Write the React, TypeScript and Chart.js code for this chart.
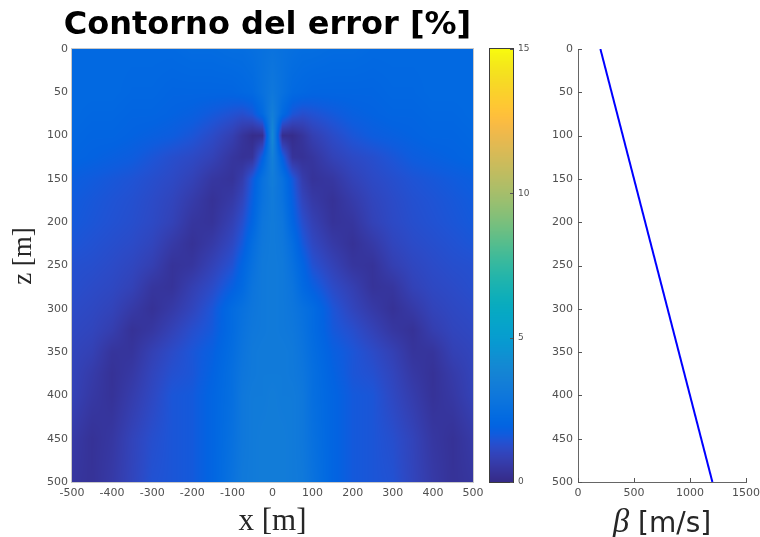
import React, { useEffect, useRef } from 'react';
import { Chart, registerables } from 'chart.js';

Chart.register(...registerables);

// ---- Error field sampled on a (x, z) grid, in percent ----
const X_NODES = [-500, -450, -400, -350, -300, -250, -200, -150, -100, -75, -50, -25, 0, 25, 50, 75, 100, 150, 200, 250, 300, 350, 400, 450, 500];
const Z_NODES = [0, 50, 75, 100, 125, 150, 175, 200, 225, 250, 275, 300, 325, 350, 375, 400, 450, 500];
const ERROR_GRID = [
  [2.2, 2.2, 2.2, 2.2, 2.2, 2.2, 2.3, 2.3, 2.4, 2.4, 2.5, 2.6, 2.7, 2.6, 2.5, 2.4, 2.4, 2.3, 2.3, 2.2, 2.2, 2.2, 2.2, 2.2, 2.2],
  [2.2, 2.2, 2.2, 2.1, 2.1, 2.0, 2.0, 2.0, 2.0, 2.1, 2.2, 2.6, 3.0, 2.6, 2.2, 2.1, 2.0, 2.0, 2.0, 2.0, 2.1, 2.1, 2.2, 2.2, 2.2],
  [2.2, 2.1, 2.1, 2.0, 2.0, 1.9, 1.8, 1.6, 1.4, 1.3, 1.5, 2.2, 3.4, 2.2, 1.5, 1.3, 1.4, 1.6, 1.8, 1.9, 2.0, 2.0, 2.1, 2.1, 2.2],
  [2.1, 2.0, 2.0, 1.9, 1.8, 1.7, 1.5, 1.2, 0.8, 0.4, 0.1, 0.15, 4.0, 0.15, 0.1, 0.4, 0.8, 1.2, 1.5, 1.7, 1.8, 1.9, 2.0, 2.0, 2.1],
  [2.0, 1.9, 1.8, 1.7, 1.5, 1.3, 1.15, 0.9, 0.45, 0.3, 0.35, 1.8, 3.5, 1.8, 0.35, 0.3, 0.45, 0.9, 1.15, 1.3, 1.5, 1.7, 1.8, 1.9, 2.0],
  [1.75, 1.65, 1.55, 1.45, 1.3, 1.15, 0.9, 0.5, 0.35, 0.7, 1.6, 2.6, 3.3, 2.6, 1.6, 0.7, 0.35, 0.5, 0.9, 1.15, 1.3, 1.45, 1.55, 1.65, 1.75],
  [1.65, 1.55, 1.45, 1.35, 1.2, 1.0, 0.65, 0.3, 0.6, 1.0, 1.8, 2.7, 3.2, 2.7, 1.8, 1.0, 0.6, 0.3, 0.65, 1.0, 1.2, 1.35, 1.45, 1.55, 1.65],
  [1.6, 1.5, 1.4, 1.3, 1.15, 0.9, 0.45, 0.35, 0.85, 1.3, 2.0, 2.9, 3.2, 2.9, 2.0, 1.3, 0.85, 0.35, 0.45, 0.9, 1.15, 1.3, 1.4, 1.5, 1.6],
  [1.5, 1.4, 1.3, 1.2, 1.0, 0.6, 0.3, 0.6, 1.1, 1.6, 2.4, 3.0, 3.2, 3.0, 2.4, 1.6, 1.1, 0.6, 0.3, 0.6, 1.0, 1.2, 1.3, 1.4, 1.5],
  [1.35, 1.3, 1.2, 1.05, 0.8, 0.35, 0.45, 0.9, 1.4, 2.0, 2.6, 3.1, 3.2, 3.1, 2.6, 2.0, 1.4, 0.9, 0.45, 0.35, 0.8, 1.05, 1.2, 1.3, 1.35],
  [1.3, 1.2, 1.1, 0.9, 0.45, 0.35, 0.8, 1.2, 1.8, 2.2, 2.8, 3.1, 3.2, 3.1, 2.8, 2.2, 1.8, 1.2, 0.8, 0.35, 0.45, 0.9, 1.1, 1.2, 1.3],
  [1.2, 1.1, 0.95, 0.6, 0.3, 0.6, 1.0, 1.5, 2.3, 2.6, 2.9, 3.1, 3.2, 3.1, 2.9, 2.6, 2.3, 1.5, 1.0, 0.6, 0.3, 0.6, 0.95, 1.1, 1.2],
  [1.1, 1.0, 0.75, 0.3, 0.5, 0.9, 1.3, 1.6, 2.3, 2.7, 3.0, 3.1, 3.2, 3.1, 3.0, 2.7, 2.3, 1.6, 1.3, 0.9, 0.5, 0.3, 0.75, 1.0, 1.1],
  [1.0, 0.85, 0.4, 0.4, 0.85, 1.2, 1.5, 1.8, 2.4, 2.8, 3.1, 3.2, 3.2, 3.2, 3.1, 2.8, 2.4, 1.8, 1.5, 1.2, 0.85, 0.4, 0.4, 0.85, 1.0],
  [0.95, 0.65, 0.3, 0.55, 1.0, 1.35, 1.5, 1.9, 2.5, 2.9, 3.1, 3.2, 3.2, 3.2, 3.1, 2.9, 2.5, 1.9, 1.5, 1.35, 1.0, 0.55, 0.3, 0.65, 0.95],
  [0.9, 0.55, 0.32, 0.7, 1.1, 1.5, 1.6, 2.0, 2.5, 3.0, 3.2, 3.2, 3.3, 3.2, 3.2, 3.0, 2.5, 2.0, 1.6, 1.5, 1.1, 0.7, 0.32, 0.55, 0.9],
  [0.6, 0.3, 0.5, 0.95, 1.3, 1.5, 1.6, 2.0, 2.6, 3.0, 3.2, 3.3, 3.3, 3.3, 3.2, 3.0, 2.6, 2.0, 1.6, 1.5, 1.3, 0.95, 0.5, 0.3, 0.6],
  [0.45, 0.32, 0.6, 1.0, 1.4, 1.5, 1.6, 2.0, 2.7, 3.1, 3.2, 3.3, 3.3, 3.3, 3.2, 3.1, 2.7, 2.0, 1.6, 1.5, 1.4, 1.0, 0.6, 0.32, 0.45],
];

const X_TICKS = [-500, -400, -300, -200, -100, 0, 100, 200, 300, 400, 500];
const Z_TICKS = [0, 50, 100, 150, 200, 250, 300, 350, 400, 450, 500];
const CBAR_TICKS = [0, 5, 10, 15];
const CBAR_MIN = 0;
const CBAR_MAX = 15;

// ---- Shear-wave velocity profile ----
const BETA_DEPTH = [0, 500];
const BETA_SPEED = [200, 1200];
const BETA_TICKS = [0, 500, 1000, 1500];

// Parula colour map (64 entries, RGB in 0..1)
const PARULA = [
  [0.2081, 0.1663, 0.5292], [0.2116, 0.1898, 0.5777], [0.2123, 0.2138, 0.627], [0.2081, 0.2386, 0.6771],
  [0.1959, 0.2645, 0.7279], [0.1707, 0.2919, 0.7792], [0.1253, 0.3242, 0.8303], [0.0591, 0.3598, 0.8683],
  [0.0117, 0.3875, 0.882], [0.006, 0.4086, 0.8828], [0.0165, 0.4266, 0.8786], [0.0329, 0.443, 0.872],
  [0.0498, 0.4586, 0.8641], [0.0629, 0.4737, 0.8554], [0.0723, 0.4887, 0.8467], [0.0779, 0.504, 0.8384],
  [0.0793, 0.52, 0.8312], [0.0749, 0.5375, 0.8263], [0.0641, 0.557, 0.824], [0.0488, 0.5772, 0.8228],
  [0.0343, 0.5966, 0.8199], [0.0265, 0.6137, 0.8135], [0.0239, 0.6287, 0.8038], [0.0231, 0.6418, 0.7913],
  [0.0228, 0.6535, 0.7768], [0.0267, 0.6642, 0.7607], [0.0384, 0.6743, 0.7436], [0.059, 0.6838, 0.7254],
  [0.0843, 0.6928, 0.7062], [0.1133, 0.7015, 0.6859], [0.1453, 0.7098, 0.6646], [0.1801, 0.7177, 0.6424],
  [0.2178, 0.725, 0.6193], [0.2586, 0.7317, 0.5954], [0.3022, 0.7376, 0.5712], [0.3482, 0.7424, 0.5473],
  [0.3953, 0.7459, 0.5244], [0.442, 0.7481, 0.5033], [0.4871, 0.7491, 0.484], [0.53, 0.7491, 0.4661],
  [0.5709, 0.7485, 0.4494], [0.6099, 0.7473, 0.4337], [0.6473, 0.7456, 0.4188], [0.6834, 0.7435, 0.4044],
  [0.7184, 0.7411, 0.3905], [0.7525, 0.7384, 0.3768], [0.7858, 0.7356, 0.3633], [0.8185, 0.7327, 0.3498],
  [0.8507, 0.7299, 0.336], [0.8824, 0.7274, 0.3217], [0.9139, 0.7258, 0.3063], [0.945, 0.7261, 0.2886],
  [0.9739, 0.7314, 0.2666], [0.9938, 0.7455, 0.2403], [0.999, 0.7653, 0.2164], [0.9955, 0.7861, 0.1967],
  [0.988, 0.8066, 0.1794], [0.9789, 0.8271, 0.1633], [0.9697, 0.8481, 0.1475], [0.9626, 0.8705, 0.1309],
  [0.9589, 0.8949, 0.1132], [0.9598, 0.9218, 0.0948], [0.9661, 0.9514, 0.0755], [0.9763, 0.9831, 0.0538],
];

const TICK_FONT = { family: '"DejaVu Sans", sans-serif', size: 11 };
const TICK_COLOR = '#505050';

function parula(v: number): [number, number, number] {
  const t = Math.min(1, Math.max(0, (v - CBAR_MIN) / (CBAR_MAX - CBAR_MIN))) * (PARULA.length - 1);
  const i = Math.min(PARULA.length - 2, Math.floor(t));
  const f = t - i;
  const a = PARULA[i];
  const b = PARULA[i + 1];
  return [
    Math.round((a[0] + (b[0] - a[0]) * f) * 255),
    Math.round((a[1] + (b[1] - a[1]) * f) * 255),
    Math.round((a[2] + (b[2] - a[2]) * f) * 255),
  ];
}

function locate(nodes: number[], v: number): [number, number] {
  let i = 0;
  while (i < nodes.length - 2 && v > nodes[i + 1]) i++;
  const t = (v - nodes[i]) / (nodes[i + 1] - nodes[i]);
  return [i, Math.min(1, Math.max(0, t))];
}

function sampleError(x: number, z: number): number {
  const [i, tx] = locate(X_NODES, x);
  const [j, tz] = locate(Z_NODES, z);
  const v00 = ERROR_GRID[j][i];
  const v10 = ERROR_GRID[j][i + 1];
  const v01 = ERROR_GRID[j + 1][i];
  const v11 = ERROR_GRID[j + 1][i + 1];
  const top = v00 + (v10 - v00) * tx;
  const bot = v01 + (v11 - v01) * tx;
  return top + (bot - top) * tz;
}

const fixedTicks = (values: number[]) => (scale: any) => {
  scale.ticks = values.map((v) => ({ value: v }));
};
const plainLabel = (v: any) => String(v);
const noSidePadding = (height: number) => (s: any) => {
  s.height = height;
  s.paddingLeft = 0;
  s.paddingRight = 0;
};
const noEndPadding = (width: number) => (s: any) => {
  s.width = width;
  s.paddingTop = 0;
  s.paddingBottom = 0;
};

// Paints the interpolated error field inside the plot area
const fieldPlugin = {
  id: 'errorField',
  beforeDatasetsDraw(chart: any) {
    const { ctx, chartArea: a, scales } = chart;
    const w = Math.round(a.right - a.left);
    const h = Math.round(a.bottom - a.top);
    const off = document.createElement('canvas');
    off.width = w;
    off.height = h;
    const octx = off.getContext('2d')!;
    const img = octx.createImageData(w, h);
    for (let py = 0; py < h; py++) {
      const z = scales.y.getValueForPixel(a.top + py + 0.5);
      for (let px = 0; px < w; px++) {
        const x = scales.x.getValueForPixel(a.left + px + 0.5);
        const [r, g, b] = parula(sampleError(x, z));
        const k = (py * w + px) * 4;
        img.data[k] = r;
        img.data[k + 1] = g;
        img.data[k + 2] = b;
        img.data[k + 3] = 255;
      }
    }
    octx.putImageData(img, 0, 0);
    ctx.drawImage(off, a.left, a.top, w, h);
  },
  afterDatasetsDraw(chart: any) {
    const { ctx, chartArea: a } = chart;
    ctx.save();
    ctx.strokeStyle = '#c8c8c8';
    ctx.lineWidth = 1;
    ctx.strokeRect(a.left - 0.5, a.top - 0.5, a.right - a.left + 1, a.bottom - a.top + 1);
    ctx.restore();
  },
  afterDraw(chart: any) {
    const { ctx, chartArea: a } = chart;
    const cx = (a.left + a.right) / 2;
    ctx.save();
    ctx.fillStyle = '#000';
    ctx.font = 'bold 32px "DejaVu Sans", sans-serif';
    ctx.textAlign = 'center';
    ctx.textBaseline = 'alphabetic';
    ctx.fillText('Contorno del error [%]', cx - 5, 34);

    ctx.fillStyle = '#262626';
    ctx.font = '31px "Liberation Serif", serif';
    ctx.fillText('x [m]', cx, 530);

    ctx.font = '27px "Liberation Serif", serif';
    ctx.translate(31, 256);
    ctx.rotate(-Math.PI / 2);
    ctx.fillText('z [m]', 0, 0);
    ctx.restore();
  },
};

// Paints the colour scale and its inward tick marks
const colorbarPlugin = {
  id: 'colorbar',
  beforeDatasetsDraw(chart: any) {
    const { ctx, chartArea: a, scales } = chart;
    const y = scales.y;
    for (let py = Math.floor(a.top); py < Math.ceil(a.bottom); py++) {
      const v = y.getValueForPixel(py + 0.5);
      const [r, g, b] = parula(v);
      ctx.fillStyle = `rgb(${r},${g},${b})`;
      ctx.fillRect(a.left, py, a.right - a.left, 1);
    }
  },
  afterDatasetsDraw(chart: any) {
    const { ctx, chartArea: a, scales } = chart;
    ctx.save();
    ctx.strokeStyle = '#3c3c3c';
    ctx.lineWidth = 1;
    ctx.strokeRect(a.left - 0.5, a.top - 0.5, a.right - a.left + 1, a.bottom - a.top + 1);
    ctx.strokeStyle = '#555';
    ctx.beginPath();
    CBAR_TICKS.forEach((t) => {
      const py = Math.round(scales.y.getPixelForValue(t)) + 0.5;
      ctx.moveTo(a.right, py);
      ctx.lineTo(a.right - 3, py);
    });
    ctx.stroke();
    ctx.restore();
  },
};

// Inward tick marks and axis title for the velocity profile
const profilePlugin = {
  id: 'profileAxes',
  afterDraw(chart: any) {
    const { ctx, chartArea: a, scales } = chart;
    ctx.save();
    ctx.strokeStyle = '#555';
    ctx.lineWidth = 1;
    ctx.beginPath();
    Z_TICKS.forEach((t) => {
      const py = Math.round(scales.y.getPixelForValue(t)) + 0.5;
      ctx.moveTo(a.left, py);
      ctx.lineTo(a.left + 4, py);
    });
    BETA_TICKS.forEach((t) => {
      const px = Math.round(scales.x.getPixelForValue(t)) + 0.5;
      ctx.moveTo(px, a.bottom);
      ctx.lineTo(px, a.bottom - 4);
    });
    ctx.stroke();

    const cx = 122;
    const greek = '\u03B2';
    const unit = ' [m/s]';
    ctx.font = 'italic 33px "Liberation Serif", serif';
    const wg = ctx.measureText(greek).width;
    ctx.font = '28px "DejaVu Sans", sans-serif';
    const wu = ctx.measureText(unit).width;
    const x0 = cx - (wg + wu) / 2;
    ctx.fillStyle = '#262626';
    ctx.textBaseline = 'alphabetic';
    ctx.textAlign = 'left';
    ctx.font = 'italic 33px "Liberation Serif", serif';
    ctx.fillText(greek, x0, 532);
    ctx.font = '28px "DejaVu Sans", sans-serif';
    ctx.fillText(unit, x0 + wg, 532);
    ctx.restore();
  },
};

function mainConfig(): any {
  return {
    type: 'scatter',
    data: { datasets: [] },
    options: {
      animation: false,
      responsive: false,
      devicePixelRatio: 1,
      layout: { padding: { top: 49, right: 17, left: 0, bottom: 0 } },
      plugins: { legend: { display: false }, tooltip: { enabled: false } },
      scales: {
        x: {
          type: 'linear', min: -500, max: 500,
          afterBuildTicks: fixedTicks(X_TICKS),
          afterFit: noSidePadding(55),
          grid: { display: false, drawTicks: false },
          border: { display: false },
          ticks: { font: TICK_FONT, color: TICK_COLOR, padding: 5, maxRotation: 0, autoSkip: false, callback: plainLabel },
        },
        y: {
          type: 'linear', min: 0, max: 500, reverse: true,
          afterBuildTicks: fixedTicks(Z_TICKS),
          afterFit: noEndPadding(72),
          grid: { display: false, drawTicks: false },
          border: { display: false },
          ticks: { font: TICK_FONT, color: TICK_COLOR, padding: 4, autoSkip: false, callback: plainLabel },
        },
      },
    },
    plugins: [fieldPlugin],
  };
}

function colorbarConfig(): any {
  return {
    type: 'scatter',
    data: { datasets: [] },
    options: {
      animation: false,
      responsive: false,
      devicePixelRatio: 1,
      layout: { padding: { top: 49, right: 0, left: 10, bottom: 55 } },
      plugins: { legend: { display: false }, tooltip: { enabled: false } },
      scales: {
        x: { type: 'linear', min: 0, max: 1, display: false },
        y: {
          type: 'linear', position: 'right', min: CBAR_MIN, max: CBAR_MAX,
          afterBuildTicks: fixedTicks(CBAR_TICKS),
          afterFit: noEndPadding(27),
          grid: { display: false, drawTicks: false },
          border: { display: false },
          ticks: { font: { ...TICK_FONT, size: 9 }, color: TICK_COLOR, padding: 5, autoSkip: false, callback: plainLabel },
        },
      },
    },
    plugins: [colorbarPlugin],
  };
}

function profileConfig(): any {
  return {
    type: 'scatter',
    data: {
      datasets: [
        {
          data: BETA_DEPTH.map((z, i) => ({ x: BETA_SPEED[i], y: z })),
          showLine: true,
          borderColor: 'rgb(0,0,255)',
          borderWidth: 2,
          pointRadius: 0,
        },
      ],
    },
    options: {
      animation: false,
      responsive: false,
      devicePixelRatio: 1,
      layout: { padding: { top: 49, right: 14, left: 0, bottom: 0 } },
      plugins: { legend: { display: false }, tooltip: { enabled: false } },
      scales: {
        x: {
          type: 'linear', min: 0, max: 1500,
          afterBuildTicks: fixedTicks(BETA_TICKS),
          afterFit: noSidePadding(55),
          grid: { display: false, drawTicks: false },
          border: { display: true, color: '#666', width: 1 },
          ticks: { font: TICK_FONT, color: TICK_COLOR, padding: 5, maxRotation: 0, autoSkip: false, callback: plainLabel },
        },
        y: {
          type: 'linear', min: 0, max: 500, reverse: true,
          afterBuildTicks: fixedTicks(Z_TICKS),
          afterFit: noEndPadding(38),
          grid: { display: false, drawTicks: false },
          border: { display: true, color: '#666', width: 1 },
          ticks: { font: TICK_FONT, color: TICK_COLOR, padding: 5, autoSkip: false, callback: plainLabel },
        },
      },
    },
    plugins: [profilePlugin],
  };
}

export default function App() {
  const mainRef = useRef<HTMLCanvasElement>(null);
  const barRef = useRef<HTMLCanvasElement>(null);
  const profRef = useRef<HTMLCanvasElement>(null);

  useEffect(() => {
    const charts = [
      new Chart(mainRef.current!, mainConfig()),
      new Chart(barRef.current!, colorbarConfig()),
      new Chart(profRef.current!, profileConfig()),
    ];
    return () => charts.forEach((c) => c.destroy());
  }, []);

  const abs = (left: number, width: number): React.CSSProperties => ({
    position: 'absolute', left, top: 0, width, height: 537,
  });

  return (
    <div style={{ position: 'absolute', left: 0, top: 0, width: 760, height: 537, background: '#fff', overflow: 'hidden' }}>
      <canvas ref={mainRef} width={490} height={537} style={abs(0, 490)} />
      <canvas ref={barRef} width={60} height={537} style={abs(480, 60)} />
      <canvas ref={profRef} width={220} height={537} style={abs(540, 220)} />
    </div>
  );
}
